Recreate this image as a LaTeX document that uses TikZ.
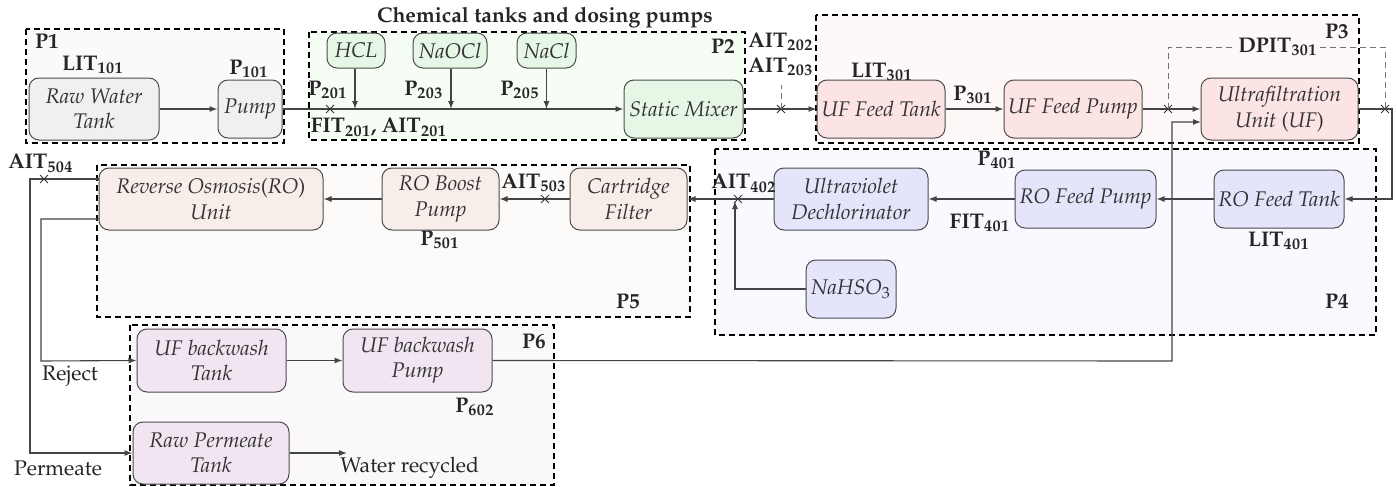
\documentclass[tikz,border=0pt]{standalone}
\usepackage[T1]{fontenc}
\usepackage{mathpazo}
\usetikzlibrary{arrows.meta,shapes.misc}
\definecolor{pAf}{HTML}{FAFAFA}\definecolor{pAn}{HTML}{F0F0F0}
\definecolor{pBf}{HTML}{F5FDF5}\definecolor{pBn}{HTML}{E6F7E6}
\definecolor{pCf}{HTML}{FFF8F8}\definecolor{pCn}{HTML}{FCE4E4}
\definecolor{pDf}{HTML}{F9F9FF}\definecolor{pDn}{HTML}{E4E4FA}
\definecolor{pEf}{HTML}{FCFBFA}\definecolor{pEn}{HTML}{F7EEE9}
\definecolor{pFf}{HTML}{FBF8FC}\definecolor{pFn}{HTML}{F1E5F1}
\definecolor{lin}{HTML}{444444}
\newcommand{\lbl}[2]{\textbf{#1}$_{\mathbf{#2}}$}
\newcommand{\up}[1]{\textup{#1}}
\tikzset{
  box/.style={draw=black!70, rounded corners=5pt, align=center, font=\itshape, inner sep=0pt, line width=0.5pt, text=black!80},
  grp/.style={draw=black, dashed, dash pattern=on 3pt off 2pt, line width=0.7pt},
  conn/.style={draw=lin, line width=0.55pt},
  arr/.style={conn, -{Latex[length=4pt,width=3pt]}},
  xm/.style={cross out, draw=black!80, minimum size=3.5pt, inner sep=0pt, line width=0.45pt},
  tag/.style={font=\bfseries, inner sep=1pt, text=black!85},
  plain/.style={inner sep=1pt, text=black!85},
  sensor/.style={draw=black!55, dashed, dash pattern=on 3pt off 2pt, line width=0.5pt}
}
\begin{document}
\fontsize{10.6}{12.6}\selectfont
\begin{tikzpicture}[x=0.5pt,y=-0.5pt]
\useasboundingbox (0,0) rectangle (1397,487);
% group boxes
\path[grp, fill=pAf] (26,29) rectangle (284,143);
\path[grp, fill=pBf] (309,32) rectangle (745,140);
\path[grp, fill=pCf] (816,15) rectangle (1359,143);
\path[grp, fill=pDf] (715,149) rectangle (1376,335);
\path[grp, fill=pEf] (97,165) rectangle (690,317);
\path[grp, fill=pFf] (130,325) rectangle (554,485);
% group labels
\node[tag] (g1) at (47,42) {P1};
\node[tag] (g2) at (723,47) {P2};
\node[tag] (g3) at (1337,32) {P3};
\node[tag] (g4) at (1337,302) {P4};
\node[tag] (g5) at (628,302) {P5};
\node[tag] (g6) at (534,342) {P6};
\node[tag] (title) at (545,18) {Chemical tanks and dosing pumps};
% nodes
\node[box, fill=pAn, minimum width=65pt, minimum height=31pt] (rwt) at (94,109) {Raw Water\\Tank};
\node[box, fill=pAn, minimum width=32pt, minimum height=29pt] (pump) at (250,109) {Pump};
\node[box, fill=pBn, minimum width=29pt, minimum height=17.5pt] (hcl) at (356,50.5) {HCL};
\node[box, fill=pBn, minimum width=37pt, minimum height=17.5pt] (naocl) at (450,50.5) {NaOCl};
\node[box, fill=pBn, minimum width=29.5pt, minimum height=17.5pt] (nacl) at (546.5,50.5) {NaCl};
\node[box, fill=pBn, minimum width=59.5pt, minimum height=29pt] (mixer) at (683.5,109) {Static Mixer};
\node[box, fill=pCn, minimum width=64pt, minimum height=29pt] (uftank) at (881,109) {UF Feed Tank};
\node[box, fill=pCn, minimum width=69pt, minimum height=29pt] (ufpump) at (1073,109) {UF Feed Pump};
\node[box, fill=pCn, minimum width=78.5pt, minimum height=31pt] (uf) at (1279.5,109) {Ultrafiltration\\Unit \up{(}UF\up{)}};
\node[box, fill=pDn, minimum width=65pt, minimum height=29pt] (rotank) at (1279,199) {RO Feed Tank};
\node[box, fill=pDn, minimum width=70.5pt, minimum height=29pt] (ropump) at (1085.5,199) {RO Feed Pump};
\node[box, fill=pDn, minimum width=77pt, minimum height=31pt] (uv) at (851,199) {Ultraviolet\\Dechlorinator};
\node[box, fill=pDn, minimum width=45pt, minimum height=29pt] (nahso) at (851,289) {NaHSO$_3$};
\node[box, fill=pEn, minimum width=58.5pt, minimum height=31pt] (cart) at (628.5,199) {Cartridge\\Filter};
\node[box, fill=pEn, minimum width=58.5pt, minimum height=31pt] (boost) at (440.5,199) {RO Boost\\Pump};
\node[box, fill=pEn, minimum width=112pt, minimum height=31pt] (ro) at (211,199) {Reverse Osmosis\up{(}RO\up{)}\\Unit};
\node[box, fill=pFn, minimum width=74.5pt, minimum height=31.5pt] (bwtank) at (211.5,360.5) {UF backwash\\Tank};
\node[box, fill=pFn, minimum width=74.5pt, minimum height=31.5pt] (bwpump) at (417.5,360.5) {UF backwash\\Pump};
\node[box, fill=pFn, minimum width=78pt, minimum height=31pt] (rptank) at (211,453) {Raw Permeate\\Tank};
% tag labels
\node[tag] (t1) at (93,65) {\lbl{LIT}{101}};
\node[tag] (t2) at (249,69) {\lbl{P}{101}};
\node[tag] (t3) at (328,90) {\lbl{P}{201}};
\node[tag] (t4) at (424,90) {\lbl{P}{203}};
\node[tag] (t5) at (520,90) {\lbl{P}{205}};
\node[tag] (t6) at (379,127) {\lbl{FIT}{201}, \lbl{AIT}{201}};
\node[tag] (t7) at (781,42) {\lbl{AIT}{202}};
\node[tag] (t8) at (781,67) {\lbl{AIT}{203}};
\node[tag] (t9) at (882,72) {\lbl{LIT}{301}};
\node[tag] (t10) at (973,95) {\lbl{P}{301}};
\node[tag, fill=pCf] (t11) at (1278,47) {\lbl{DPIT}{301}};
\node[tag] (t12) at (997,160) {\lbl{P}{401}};
\node[tag] (t13) at (980,223) {\lbl{FIT}{401}};
\node[tag] (t14) at (1279,241) {\lbl{LIT}{401}};
\node[tag] (t15) at (744,183) {\lbl{AIT}{402}};
\node[tag] (t16) at (534,183) {\lbl{AIT}{503}};
\node[tag] (t17) at (440,240) {\lbl{P}{501}};
\node[tag] (t18) at (41,163) {\lbl{AIT}{504}};
\node[tag] (t19) at (475,407) {\lbl{P}{602}};
\node[plain] (reject) at (70,376) {Reject};
\node[plain] (perm) at (58,468) {Permeate};
\node[plain, anchor=west] (recyc) at (338,468) {Water recycled};
% helper coordinates
\coordinate (ro1) at (99,179);
\coordinate (ro2) at (99,219);
\coordinate (uf2) at (1201,122);
\coordinate (recend) at (347,453);
% connectors P1-P2
\draw[arr] (rwt) -- (pump);
\draw[arr] (pump.east) -- (mixer.west);
\node[xm] (x201) at (330,109) {};
\draw[arr] (hcl.south -| 355,0) -- (355,109);
\draw[arr] (naocl.south -| 451,0) -- (451,109);
\draw[arr] (nacl.south) -- (nacl.south |- mixer.west);
% P2 -> P3
\draw[arr] (mixer.east) -- (uftank.west);
\node[xm] (x202) at (781,109) {};
\draw[sensor] (x202.center) -- (781,85);
\draw[arr] (uftank) -- (ufpump);
\draw[arr] (ufpump.east) -- (uf.west);
\node[xm] (xd1) at (1168,109) {};
\node[xm] (xd2) at (1385,109) {};
\draw[sensor] (xd1.center) |- (t11.west);
\draw[sensor] (t11.east) -| (xd2.center);
% P3 -> P4
\draw[arr] (uf.east) -- (1392,109) -- (1392,199) -- (rotank.east);
\draw[arr] (rotank) -- (ropump);
\draw[arr] (ropump) -- (uv);
\draw[arr] (uv.west) -- (cart.east);
\node[xm] (x402) at (738,199) {};
\draw[arr] (nahso.west) -- (735,289) -- (735,201);
% P5
\draw[arr] (cart) -- (boost);
\node[xm] (x503) at (545,199) {};
\draw[arr] (boost) -- (ro);
% RO outlets
\draw[arr] (ro1) -- (30,179) -- (30,453) -- (rptank.west);
\node[xm] (x504) at (44,179) {};
\draw[arr] (ro2) -- (41,219) -- (41,361) -- (bwtank.west);
% P6
\draw[arr] (bwtank) -- (bwpump);
\draw[arr] (bwpump.east) -- (1172,361) -- (1172,122) -- (uf2);
\draw[arr] (rptank.east) -- (recend);
\end{tikzpicture}
\end{document}
